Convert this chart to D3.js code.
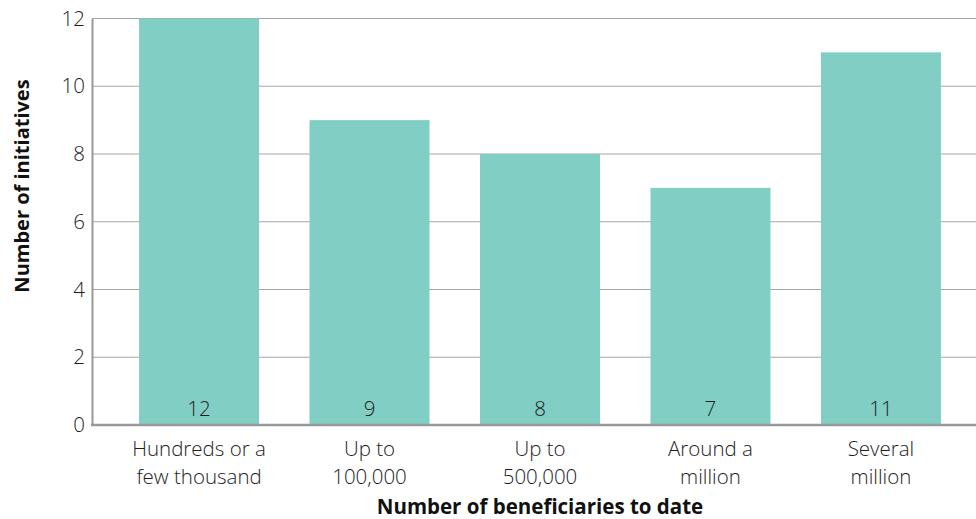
<!DOCTYPE html>
<html><head><meta charset="utf-8">
<script src="https://cdn.jsdelivr.net/npm/d3@7/dist/d3.min.js"></script>
<style>
html,body{margin:0;padding:0;background:#fff;}
svg{display:block;font-family:"Open Sans","Noto Sans",sans-serif;}
</style></head>
<body><svg id="c" width="976" height="519"></svg>
<script>
const categories = [["Hundreds or a","few thousand"],["Up to","100,000"],["Up to","500,000"],["Around a","million"],["Several","million"]];
const values = [12, 9, 8, 7, 11];
const yTicks = [0, 2, 4, 6, 8, 10, 12];
const xTitle = "Number of beneficiaries to date";
const yTitle = "Number of initiatives";

const svg = d3.select("#c");
const x0 = 92, yBottom = 425, yTop = 18.5;
const x = d3.scaleBand().domain(d3.range(values.length)).range([x0, 988]).paddingInner(0.296).paddingOuter(0.276);
const y = d3.scaleLinear().domain([0, 12]).range([yBottom, yTop]);
const txt = "#1e1c1d";

// gridlines
svg.append("g").selectAll("line").data(yTicks.filter(d => d > 0)).join("line")
  .attr("x1", x0).attr("x2", 976).attr("y1", d => y(d)).attr("y2", d => y(d))
  .attr("stroke", "#a6a6a6").attr("stroke-width", 1.2);

// bars
svg.append("g").selectAll("rect").data(values).join("rect")
  .attr("x", (d, i) => x(i)).attr("width", x.bandwidth())
  .attr("y", d => y(d)).attr("height", d => yBottom - y(d))
  .attr("fill", "#81cec5");

// value labels
svg.append("g").selectAll("text").data(values).join("text")
  .attr("x", (d, i) => x(i) + x.bandwidth() / 2).attr("y", 416)
  .attr("text-anchor", "middle").attr("font-size", 20.5).attr("font-weight", 300)
  .attr("fill", txt).text(d => d);

// y axis
const yAxis = d3.axisLeft(y).tickValues(yTicks).tickSize(0).tickPadding(7);
const gy = svg.append("g").attr("transform", `translate(${x0},0)`).call(yAxis);
gy.select(".domain").attr("stroke", "#999999").attr("stroke-width", 2);
gy.selectAll("text").attr("font-size", 20.5).attr("font-weight", 300).attr("fill", txt)
  .attr("font-family", "'Open Sans','Noto Sans',sans-serif");

// x axis line
svg.append("line").attr("x1", x0 - 1).attr("x2", 976).attr("y1", yBottom).attr("y2", yBottom)
  .attr("stroke", "#999999").attr("stroke-width", 2.5);

// category labels
const cl = svg.append("g").selectAll("text").data(categories).join("text")
  .attr("x", (d, i) => x(i) + x.bandwidth() / 2).attr("y", 456)
  .attr("text-anchor", "middle").attr("font-size", 20.5).attr("font-weight", 300).attr("fill", txt);
cl.selectAll("tspan").data(d => d).join("tspan")
  .attr("x", function() { return this.parentNode.getAttribute("x"); })
  .attr("dy", (d, i) => i === 0 ? 0 : 28).text(d => d);

// axis titles
svg.append("text").attr("x", 540).attr("y", 514).attr("text-anchor", "middle")
  .attr("font-size", 20.5).attr("font-weight", 700).attr("fill", "#111").text(xTitle);
svg.append("text").attr("transform", "translate(29,186) rotate(-90)").attr("text-anchor", "middle")
  .attr("font-size", 20).attr("font-weight", 700).attr("fill", "#111").text(yTitle);
</script></body></html>
